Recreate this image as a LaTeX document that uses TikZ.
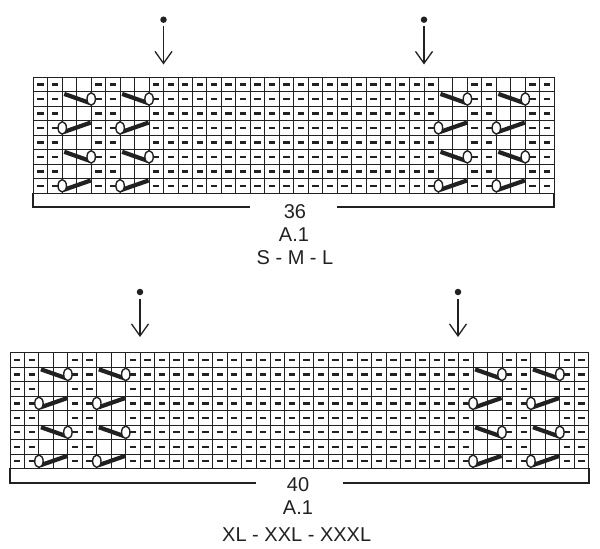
\documentclass[tikz,border=0pt]{standalone}
\usepackage{fontspec}
\setmainfont{Liberation Sans}
\usetikzlibrary{arrows.meta}
\definecolor{ink}{gray}{0.13}
\tikzset{
  gridline/.style={draw=ink,line width=0.95pt},
  purlmark/.style={ink,line width=2.4pt},
  slipline/.style={ink,line width=4.2pt},
  yarnover/.style={draw=ink,line width=1.4pt,fill=white},
  bracket/.style={draw=ink,line width=1.7pt},
  placedot/.style={circle,fill=ink,inner sep=0pt,minimum size=6.5pt,outer sep=3.5pt},
  placearrow/.style={draw=ink,line width=1.3pt,-{Straight Barb[length=12pt,width=17pt,line width=1.3pt]}},
  sizetext/.style={text=ink,font=\fontsize{20}{24}\selectfont,inner sep=0pt}
}
% #1 columns, #2 columns with a purl mark, #3 first column of each pair of stitches
\newcommand{\chartgrid}[3]{
  \foreach \r in {0,...,8} \draw[gridline] (0,\r) -- (#1,\r);
  \foreach \c in {0,...,#1} \draw[gridline] (\c,0) -- (\c,8);
  \foreach \r in {0,...,7}
    \foreach \c in {#2} \draw[purlmark] (\c+0.28,\r+0.5) -- (\c+0.72,\r+0.5);
  \foreach \c in {#3} {
    \foreach \r in {1,5} {
      \draw[slipline] (\c+0.14,\r+0.15) -- (\c+1.93,\r+0.78);
      \draw[yarnover] (\c+2,\r+0.5) ellipse [x radius=4.2pt,y radius=6.2pt];
    }
    \foreach \r in {3,7} {
      \draw[slipline] (\c+0.1,\r+0.78) -- (\c+1.97,\r+0.13);
      \draw[yarnover] (\c,\r+0.5) ellipse [x radius=4.2pt,y radius=6.2pt];
    }
  }
}
\begin{document}
\begin{tikzpicture}[x=1pt,y=-1pt]
  \useasboundingbox (0,0) rectangle (600,549);
  % upper chart
  \begin{scope}[shift={(33.3,77.3)},x=14.47pt,y=-14.47pt]
    \chartgrid{36}{0,1,4,5,8,9,...,27,30,31,34,35}{2,6,28,32}
  \end{scope}
  \draw[bracket] (33.3,192.8) -- (33.3,207) -- (250,207);
  \draw[bracket] (337.3,207) -- (554.2,207) -- (554.2,192.8);
  \node[placedot] (dotA) at (163.5,19.7) {};
  \node[placedot] (dotB) at (424,19.7) {};
  \coordinate (tipA) at (163.5,64.5);
  \coordinate (tipB) at (424,64.5);
  \draw[placearrow] (dotA) -- (tipA);
  \draw[placearrow] (dotB) -- (tipB);
  \node[sizetext] (countA) at (295,212) {36};
  \node[sizetext] (nameA) at (294,235) {A.1};
  \node[sizetext] (sizesA) at (295,258) {S - M - L};
  % lower chart
  \begin{scope}[shift={(10,352.7)},x=14.47pt,y=-14.47pt]
    \chartgrid{40}{0,1,4,5,8,9,...,31,34,35,38,39}{2,6,32,36}
  \end{scope}
  \draw[bracket] (10,468.4) -- (10,482.7) -- (256,482.7);
  \draw[bracket] (342.7,482.7) -- (588.8,482.7) -- (588.8,468.4);
  \node[placedot] (dotC) at (140,292) {};
  \node[placedot] (dotD) at (458,292) {};
  \coordinate (tipC) at (140,337);
  \coordinate (tipD) at (458,337);
  \draw[placearrow] (dotC) -- (tipC);
  \draw[placearrow] (dotD) -- (tipD);
  \node[sizetext] (countB) at (298,485) {40};
  \node[sizetext] (nameB) at (298,508) {A.1};
  \node[sizetext] (sizesB) at (296.7,535) {XL - XXL - XXXL};
\end{tikzpicture}
\end{document}
